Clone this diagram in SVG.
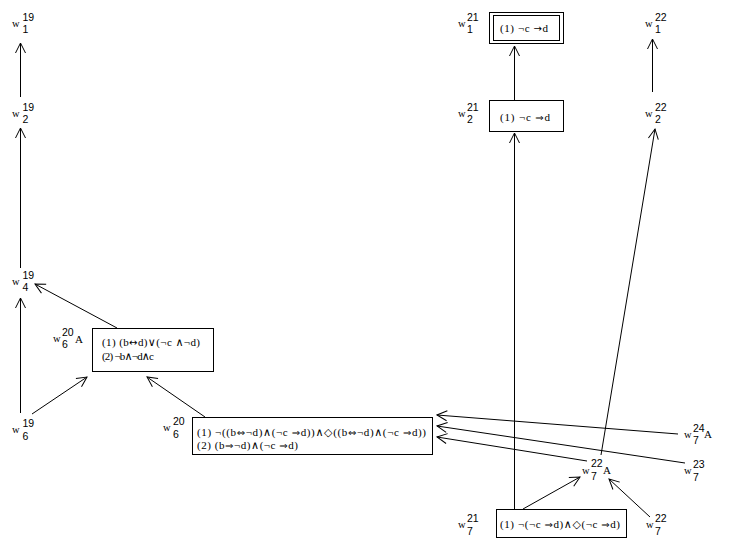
<svg xmlns="http://www.w3.org/2000/svg" width="730" height="555" viewBox="0 0 730 555">
<style>
.w{font-family:"Liberation Serif",serif;font-size:10.5px;fill:#000}
.A{font-family:"Liberation Serif",serif;font-size:11px;fill:#000}
.n{font-family:"Liberation Sans",sans-serif;font-size:10.5px;fill:#000}
.t{font-family:"Liberation Serif","DejaVu Serif",serif;font-size:11px;fill:#000}
.a{font-family:"DejaVu Sans",sans-serif;font-size:10px}
.b{fill:#fff;stroke:#000;stroke-width:1}
.c line{stroke:#000;stroke-width:1;marker-end:url(#ah)}
</style>
<defs>
<marker id="ah" markerWidth="12" markerHeight="12" viewBox="-11 -6 12 12" refX="0" refY="0" orient="auto" markerUnits="userSpaceOnUse">
<path d="M-10,-5 L0,0 L-10,5" fill="none" stroke="#000" stroke-width="1"/>
</marker>
</defs>
<rect width="730" height="555" fill="#fff"/>
<g class="c" id="connectors">
<line x1="20.5" y1="97" x2="20.5" y2="43"/>
<line x1="20.5" y1="268" x2="20.5" y2="128"/>
<line x1="20.5" y1="413" x2="20.5" y2="298"/>
<line x1="32" y1="414" x2="87" y2="377"/>
<line x1="117" y1="328" x2="35" y2="284"/>
<line x1="205" y1="417" x2="147" y2="377"/>
<line x1="514.5" y1="100" x2="514.5" y2="46"/>
<line x1="652.5" y1="92" x2="652.5" y2="39"/>
<line x1="514.5" y1="509" x2="514.5" y2="133"/>
<line x1="601" y1="455" x2="655" y2="129"/>
<line x1="678" y1="434" x2="437" y2="415"/>
<line x1="685" y1="463" x2="437" y2="426"/>
<line x1="587" y1="461" x2="437" y2="437"/>
<line x1="523" y1="509" x2="580" y2="477"/>
<line x1="650" y1="517" x2="609" y2="479"/>
</g>
<g id="w1_19"><text class="w" x="12" y="27">w</text><text class="n" x="22.5" y="21">19</text><text class="n" x="22.5" y="33">1</text></g>
<g id="w2_19"><text class="w" x="12" y="117">w</text><text class="n" x="22.5" y="111">19</text><text class="n" x="22.5" y="123">2</text></g>
<g id="w4_19"><text class="w" x="12" y="285">w</text><text class="n" x="22.5" y="279">19</text><text class="n" x="22.5" y="291">4</text></g>
<g id="w6_19"><text class="w" x="12" y="433">w</text><text class="n" x="22.5" y="427">19</text><text class="n" x="22.5" y="440">6</text></g>
<g id="w6_20A">
<text class="w" x="53" y="342">w</text><text class="n" x="62" y="336">20</text><text class="n" x="62" y="348">6</text><text class="A" x="75" y="343">A</text>
<rect class="b" x="92.5" y="328.5" width="121" height="43"/>
<text class="t" x="102" y="346" textLength="98">(1) (b<tspan class="a">↔</tspan>d)∨(¬c ∧¬d)</text>
<text class="t" x="102" y="360" textLength="52">(2) ¬b∧¬d∧c</text>
</g>
<g id="w6_20">
<text class="w" x="163" y="431">w</text><text class="n" x="173" y="425">20</text><text class="n" x="173" y="438">6</text>
<rect class="b" x="192.5" y="417.5" width="240" height="37"/>
<text class="t" x="197" y="436" textLength="229">(1) ¬((b<tspan class="a">⇔</tspan>¬d)∧(¬c <tspan class="a">⇒</tspan>d))∧◇((b<tspan class="a">⇔</tspan>¬d)∧(¬c <tspan class="a">⇒</tspan>d))</text>
<text class="t" x="197" y="449" textLength="101">(2) (b<tspan class="a">⇒</tspan>¬d)∧(¬c <tspan class="a">⇒</tspan>d)</text>
</g>
<g id="w1_21">
<text class="w" x="458" y="27">w</text><text class="n" x="467" y="21">21</text><text class="n" x="467" y="33">1</text>
<rect class="b" x="489.5" y="12.5" width="74" height="31"/>
<rect class="b" x="493.5" y="15.5" width="66" height="25"/>
<text class="t" x="500" y="32" textLength="48">(1) ¬c <tspan class="a">→</tspan>d</text>
</g>
<g id="w2_21">
<text class="w" x="458" y="117">w</text><text class="n" x="467" y="111">21</text><text class="n" x="467" y="123">2</text>
<rect class="b" x="489.5" y="100.5" width="74" height="31"/>
<text class="t" x="500" y="121" textLength="50">(1) ¬c <tspan class="a">⇒</tspan>d</text>
</g>
<g id="w1_22"><text class="w" x="645" y="27">w</text><text class="n" x="655" y="21">22</text><text class="n" x="655" y="33">1</text></g>
<g id="w2_22"><text class="w" x="645" y="117">w</text><text class="n" x="655" y="111">22</text><text class="n" x="655" y="123">2</text></g>
<g id="w7_24A"><text class="w" x="684" y="438">w</text><text class="n" x="693" y="432">24</text><text class="n" x="693" y="444">7</text><text class="A" x="704" y="438">A</text></g>
<g id="w7_23"><text class="w" x="684" y="474">w</text><text class="n" x="693" y="468">23</text><text class="n" x="693" y="481">7</text></g>
<g id="w7_22A"><text class="w" x="582" y="474">w</text><text class="n" x="591" y="467">22</text><text class="n" x="591" y="480">7</text><text class="A" x="603" y="474">A</text></g>
<g id="w7_21">
<text class="w" x="458" y="528">w</text><text class="n" x="467" y="522">21</text><text class="n" x="467" y="535">7</text>
<rect class="b" x="496.5" y="509.5" width="130" height="28"/>
<text class="t" x="500" y="528" textLength="120">(1) ¬(¬c <tspan class="a">⇒</tspan>d)∧◇(¬c <tspan class="a">⇒</tspan>d)</text>
</g>
<g id="w7_22"><text class="w" x="646" y="528">w</text><text class="n" x="655" y="522">22</text><text class="n" x="655" y="535">7</text></g>
</svg>
